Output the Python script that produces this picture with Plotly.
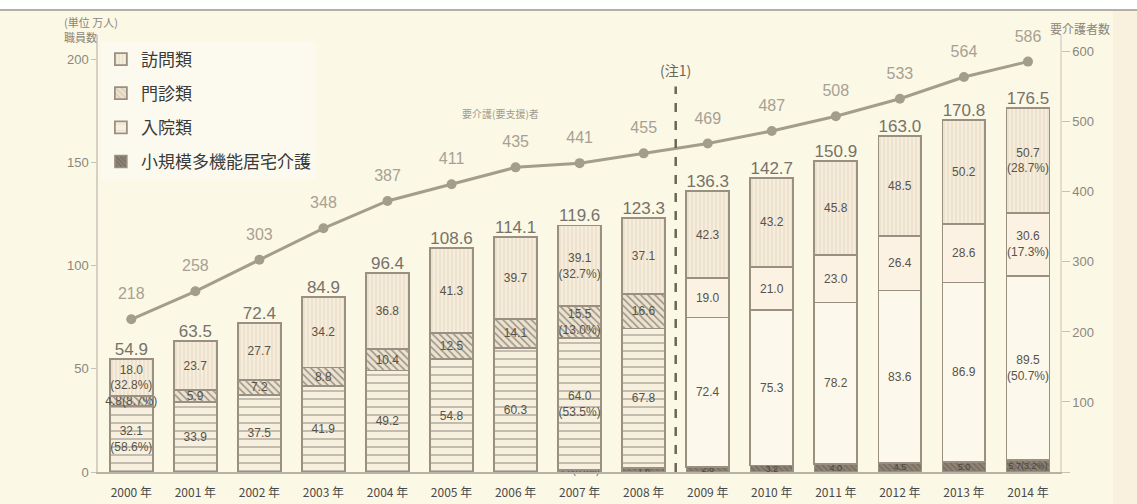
import plotly.graph_objects as go

years = ["2000 年", "2001 年", "2002 年", "2003 年", "2004 年", "2005 年", "2006 年", "2007 年",
         "2008 年", "2009 年", "2010 年", "2011 年", "2012 年", "2013 年", "2014 年"]
shokibo = [0, 0, 0, 0, 0, 0, 0, 1.0, 1.8, 2.6, 3.2, 4.0, 4.5, 5.0, 5.7]
nyuin = [32.1, 33.9, 37.5, 41.9, 49.2, 54.8, 60.3, 64.0, 67.8, 72.4, 75.3, 78.2, 83.6, 86.9, 89.5]
monshin = [4.8, 5.9, 7.2, 8.8, 10.4, 12.5, 14.1, 15.5, 16.6, 19.0, 21.0, 23.0, 26.4, 28.6, 30.6]
homon = [18.0, 23.7, 27.7, 34.2, 36.8, 41.3, 39.7, 39.1, 37.1, 42.3, 43.2, 45.8, 48.5, 50.2, 50.7]
totals = [54.9, 63.5, 72.4, 84.9, 96.4, 108.6, 114.1, 119.6, 123.3, 136.3, 142.7, 150.9, 163.0, 170.8, 176.5]
care_need = [218, 258, 303, 348, 387, 411, 435, 441, 455, 469, 487, 508, 533, 564, 586]

shokibo_txt = ["", "", "", "", "", "", "", "1.0(0.8%)", "1.8", "2.6", "3.2", "4.0", "4.5", "5.0", "5.7(3.2%)"]
nyuin_txt = ["32.1<br>(58.6%)", "33.9", "37.5", "41.9", "49.2", "54.8", "60.3", "64.0<br>(53.5%)",
             "67.8", "72.4", "75.3", "78.2", "83.6", "86.9", "89.5<br>(50.7%)"]
monshin_txt = ["4.8(8.7%)", "5.9", "7.2", "8.8", "10.4", "12.5", "14.1", "15.5<br>(13.0%)",
               "16.6", "19.0", "21.0", "23.0", "26.4", "28.6", "30.6<br>(17.3%)"]
homon_txt = ["18.0<br>(32.8%)", "23.7", "27.7", "34.2", "36.8", "41.3", "39.7", "39.1<br>(32.7%)",
             "37.1", "42.3", "43.2", "45.8", "48.5", "50.2", "50.7<br>(28.7%)"]

BG = "#FBF8E6"
OUT = "#9A9082"
NARROW = "Liberation Sans Narrow, Liberation Sans, sans-serif"
SEG_FONT = dict(family=NARROW, size=12, color="#58534A")
CJK = "Noto Sans CJK JP, sans-serif"

n_old = 9  # years before the 2009 break
fig = go.Figure()

fig.add_trace(go.Bar(
    x=years, y=shokibo, name="小規模多機能居宅介護", legendgroup="d", legendrank=4,
    marker=dict(color="#8E8476", line=dict(color=OUT, width=1.5),
                pattern=dict(shape="\\", fgcolor="#5E564A", size=4, solidity=0.4)),
    text=shokibo_txt, textposition="inside", insidetextanchor="middle",
    constraintext="none", textangle=0, cliponaxis=False,
    textfont=dict(family=NARROW, size=9, color="#4A453D"), hoverinfo="skip"))

fig.add_trace(go.Bar(
    x=years, y=nyuin, name="入院類", legendgroup="c", legendrank=3,
    marker=dict(color=["#F8F0DE"] * n_old + ["#FDF8EC"] * (15 - n_old),
                line=dict(color=OUT, width=1.8),
                pattern=dict(shape=["-"] * n_old + [""] * (15 - n_old), fgcolor="#D9CDB8",
                             size=8, solidity=0.15)),
    text=nyuin_txt, textposition="inside", insidetextanchor="middle",
    constraintext="none", textangle=0, textfont=SEG_FONT, hoverinfo="skip"))

fig.add_trace(go.Bar(
    x=years, y=monshin, name="門診類", legendgroup="b", legendrank=2,
    marker=dict(color=["#EDE2CE"] * n_old + ["#FBF2E4"] * (15 - n_old),
                line=dict(color=OUT, width=1.8),
                pattern=dict(shape=["\\"] * n_old + [""] * (15 - n_old), fgcolor="#C2B39C",
                             size=5, solidity=0.3)),
    text=monshin_txt, textposition="inside", insidetextanchor="middle",
    constraintext="none", textangle=0, textfont=SEG_FONT, hoverinfo="skip"))

fig.add_trace(go.Bar(
    x=years, y=homon, name="訪問類", legendgroup="a", legendrank=1,
    marker=dict(color="#F6EDDB", line=dict(color=OUT, width=1.8),
                pattern=dict(shape="|", fgcolor="#D6C9B2", size=4, solidity=0.3)),
    text=homon_txt, textposition="inside", insidetextanchor="middle",
    constraintext="none", textangle=0, textfont=SEG_FONT, hoverinfo="skip"))

# totals above bars
fig.add_trace(go.Scatter(
    x=years, y=totals, mode="text", text=[f"{v:.1f}" for v in totals],
    textposition="top center", showlegend=False, hoverinfo="skip", cliponaxis=False,
    textfont=dict(family="Liberation Sans, sans-serif", size=17, color="#77726A")))

# care-need line (right axis)
fig.add_trace(go.Scatter(
    x=years, y=care_need, mode="lines+markers", yaxis="y2", showlegend=False,
    line=dict(color="#A39D8E", width=3), marker=dict(size=10, color="#A39D8E"),
    hoverinfo="skip", cliponaxis=False))
fig.add_trace(go.Scatter(
    x=years, y=care_need, mode="markers+text", yaxis="y2", showlegend=False,
    marker=dict(size=24, opacity=0), text=[str(v) for v in care_need],
    textposition="top center", hoverinfo="skip", cliponaxis=False,
    textfont=dict(family="Liberation Sans, sans-serif", size=16, color="#A7A194")))

fig.update_layout(
    width=1137, height=504,
    margin=dict(l=98, r=77, t=35, b=32),
    paper_bgcolor=BG, plot_bgcolor=BG,
    barmode="stack", bargap=0.33,
    font=dict(family=CJK, color="#555"),
    legend=dict(x=0.003, y=0.985, xanchor="left", yanchor="top",
                traceorder="grouped", tracegroupgap=9,
                bgcolor="rgba(255,255,255,0.35)",
                font=dict(family=CJK, size=17, color="#3A3A3A"),
                itemwidth=30),
    xaxis=dict(type="category", range=[-0.52, 14.5], showgrid=False, automargin=False,
               showline=True, linecolor="#B8B2A6", linewidth=1.5,
               ticks="outside", ticklen=9, tickcolor="rgba(0,0,0,0)",
               tickfont=dict(family=CJK, size=12, color="#4A4A4A")),
    yaxis=dict(range=[0, 212], tickvals=[0, 50, 100, 150, 200], showgrid=False, automargin=False,
               showline=True, linecolor="#D6D0C4", linewidth=1.5, ticks="outside",
               ticklen=5, tickcolor="#C8C2B6", zeroline=False,
               tickfont=dict(family="Liberation Sans, sans-serif", size=13, color="#8C877C")),
    yaxis2=dict(range=[0, 624], overlaying="y", side="right", automargin=False,
                tickvals=[0, 100, 200, 300, 400, 500, 600],
                ticktext=["", "100", "200", "300", "400", "500", "600"],
                showgrid=False, showline=True, linecolor="#E2DCD0", linewidth=1.5,
                ticks="outside", ticklen=8, tickcolor="#C8C2B6", zeroline=False,
                tickfont=dict(family="Liberation Sans, sans-serif", size=13, color="#8C877C")),
    shapes=[
        dict(type="rect", xref="paper", yref="paper", x0=-0.2, x1=1.2, y0=1.057, y1=1.2,
             fillcolor="white", line=dict(width=0), layer="below"),
        dict(type="rect", xref="paper", yref="paper", x0=1.055, x1=1.2, y0=-0.2, y1=1.057,
             fillcolor="#FAF0DE", line=dict(width=0), layer="below"),
        dict(type="line", xref="paper", yref="paper", x0=-0.102, x1=1.088, y0=1.057, y1=1.057,
             line=dict(color="#B5AFA5", width=2)),
        dict(type="line", xref="x", yref="y", x0=8.5, x1=8.5, y0=0, y1=187,
             line=dict(color="#6B665C", width=2.5, dash="dash")),
    ],
    annotations=[
        dict(text="(単位 万人)", xref="paper", yref="paper", x=-0.037, y=1.03,
             xanchor="left", yanchor="middle", showarrow=False,
             font=dict(family=CJK, size=11, color="#8A857A")),
        dict(text="職員数", xref="paper", yref="paper", x=-0.037, y=0.995,
             xanchor="left", yanchor="middle", showarrow=False,
             font=dict(family=CJK, size=11, color="#8A857A")),
        dict(text="要介護者数", xref="paper", yref="paper", x=1.054, y=1.016,
             xanchor="right", yanchor="middle", showarrow=False,
             font=dict(family=CJK, size=12, color="#8A857A")),
        dict(text="要介護(要支援)者", xref="x", yref="y", x=5.76, y=174,
             showarrow=False, font=dict(family=CJK, size=10, color="#A09A8E")),
        dict(text="(注1)", xref="x", yref="y", x=8.5, y=195,
             showarrow=False, font=dict(family=CJK, size=14, color="#6B665C")),
    ],
)

fig.write_html("out.html")
